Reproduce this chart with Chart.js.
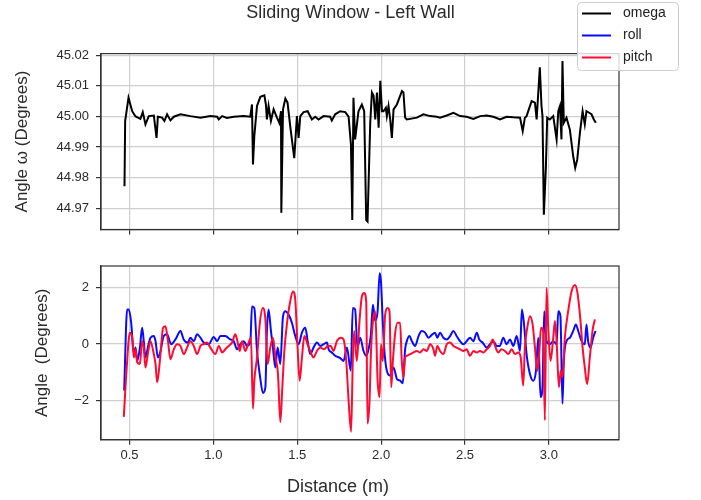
<!DOCTYPE html>
<html>
<head>
<meta charset="utf-8">
<script src="https://cdn.jsdelivr.net/npm/chart.js@4.4.0/dist/chart.umd.min.js"></script>
<style>
body { margin: 0; background: #fff; }
#wrap { position: relative; width: 701px; height: 500px; }
#topChart { position: absolute; left: 0; top: 0; }
#botChart { position: absolute; left: 0; top: 250px; }
</style>
</head>
<body>
<div id="wrap">
<canvas id="topChart" width="701" height="250"></canvas>
<canvas id="botChart" width="676" height="250"></canvas>
</div>
<script>

// omega
var omegaDist = [0.470, 0.474, 0.494, 0.516, 0.536, 0.565, 0.579, 0.595, 0.615, 0.645, 0.661, 0.669, 0.694, 0.708, 0.724, 0.744, 0.764, 0.804, 0.863, 0.923,
    0.982, 1.022, 1.032, 1.052, 1.081, 1.121, 1.181, 1.220, 1.230, 1.236, 1.244, 1.260, 1.280, 1.304, 1.313, 1.319, 1.329, 1.343, 1.359, 1.379,
    1.393, 1.403, 1.405, 1.415, 1.429, 1.442, 1.458, 1.482, 1.498, 1.508, 1.518, 1.538, 1.562, 1.587, 1.607, 1.627, 1.657, 1.696, 1.706, 1.726,
    1.756, 1.786, 1.806, 1.820, 1.828, 1.835, 1.845, 1.865, 1.885, 1.899, 1.911, 1.919, 1.935, 1.945, 1.955, 1.965, 1.975, 1.985, 1.995, 2.005,
    2.014, 2.028, 2.034, 2.044, 2.054, 2.064, 2.074, 2.094, 2.124, 2.133, 2.143, 2.153, 2.213, 2.252, 2.292, 2.332, 2.351, 2.391, 2.431, 2.471,
    2.510, 2.550, 2.590, 2.629, 2.669, 2.709, 2.748, 2.788, 2.828, 2.844, 2.857, 2.867, 2.897, 2.917, 2.927, 2.946, 2.956, 2.962, 2.970, 2.982,
    2.990, 3.006, 3.026, 3.046, 3.056, 3.066, 3.075, 3.081, 3.089, 3.105, 3.125, 3.145, 3.157, 3.169, 3.185, 3.201, 3.214, 3.224, 3.240, 3.254,
    3.268, 3.280];
var omegaVal = [44.9772, 44.9985, 45.0061, 45.0017, 45.0000, 44.9992, 45.0014, 44.9974, 45.0001, 45.0003, 44.9930, 44.9999, 44.9996, 44.9985, 45.0007, 44.9987, 44.9999, 45.0007, 45.0001, 44.9996,
    45.0001, 44.9999, 44.9990, 45.0001, 44.9995, 44.9999, 45.0001, 44.9999, 45.0039, 44.9843, 44.9936, 45.0034, 45.0064, 45.0069, 45.0039, 44.9990, 45.0034, 44.9985, 45.0023, 44.9996,
    44.9979, 45.0017, 44.9686, 45.0023, 45.0058, 45.0045, 44.9968, 44.9864, 45.0001, 44.9930, 45.0001, 45.0014, 45.0017, 44.9990, 44.9999, 44.9990, 45.0001, 44.9999, 44.9987, 45.0007,
    45.0017, 45.0014, 44.9999, 44.9908, 44.9662, 45.0061, 44.9925, 45.0017, 45.0039, 45.0017, 44.9662, 44.9657, 44.9979, 45.0078, 45.0067, 44.9990, 45.0078, 44.9963, 45.0116, 45.0017,
    45.0017, 45.0028, 45.0001, 45.0034, 44.9990, 44.9930, 45.0023, 45.0039, 45.0083, 45.0078, 44.9996, 44.9990, 44.9996, 45.0007, 45.0001, 44.9999, 44.9996, 45.0003, 45.0012, 45.0001,
    44.9999, 44.9992, 45.0001, 45.0003, 44.9999, 44.9990, 44.9999, 44.9997, 44.9996, 44.9952, 44.9996, 45.0001, 45.0050, 45.0045, 44.9990, 45.0160, 45.0034, 45.0001, 44.9679, 44.9832,
    44.9996, 44.9990, 45.0001, 44.9925, 45.0017, 45.0034, 44.9925, 45.0181, 44.9979, 44.9996, 44.9957, 44.9870, 44.9832, 44.9859, 44.9946, 45.0017, 44.9974, 45.0017, 45.0012, 45.0007,
    44.9990, 44.9979];

// roll, bottom panel (blue)
var rollDist = [0.468, 0.486, 0.496, 0.510, 0.526, 0.536, 0.546, 0.562, 0.575, 0.585, 0.595, 0.609, 0.625, 0.645, 0.655, 0.669, 0.685, 0.704, 0.724, 0.748,
    0.774, 0.804, 0.823, 0.847, 0.863, 0.883, 0.903, 0.923, 0.942, 0.972, 1.002, 1.022, 1.042, 1.071, 1.101, 1.121, 1.141, 1.161, 1.181, 1.200,
    1.220, 1.230, 1.244, 1.260, 1.276, 1.296, 1.310, 1.319, 1.329, 1.343, 1.355, 1.369, 1.383, 1.399, 1.415, 1.429, 1.448, 1.468, 1.488, 1.508,
    1.528, 1.548, 1.562, 1.577, 1.597, 1.617, 1.637, 1.657, 1.677, 1.687, 1.706, 1.726, 1.756, 1.776, 1.796, 1.819, 1.831, 1.845, 1.859, 1.875,
    1.895, 1.911, 1.925, 1.939, 1.951, 1.965, 1.979, 1.991, 1.999, 2.007, 2.018, 2.034, 2.054, 2.074, 2.094, 2.113, 2.129, 2.143, 2.153, 2.169,
    2.183, 2.203, 2.223, 2.242, 2.262, 2.282, 2.302, 2.321, 2.335, 2.351, 2.371, 2.391, 2.411, 2.431, 2.450, 2.470, 2.490, 2.510, 2.530, 2.550,
    2.570, 2.585, 2.605, 2.629, 2.649, 2.669, 2.689, 2.708, 2.728, 2.748, 2.768, 2.788, 2.808, 2.828, 2.839, 2.851, 2.867, 2.887, 2.907, 2.923,
    2.937, 2.950, 2.962, 2.972, 2.986, 3.006, 3.026, 3.046, 3.056, 3.069, 3.081, 3.089, 3.105, 3.125, 3.145, 3.161, 3.175, 3.195, 3.214, 3.224,
    3.234, 3.248, 3.264, 3.278];
var rollVal = [-1.65, 1.22, 1.22, 0.75, -0.36, -0.13, -0.60, -0.13, 0.57, 0.10, -0.48, -0.13, 0.22, 0.28, 0.10, -0.48, -0.25, 0.28, 0.34, -0.01,
    0.16, 0.46, 0.16, 0.05, 0.22, 0.10, 0.34, 0.22, 0.05, -0.01, 0.25, 0.10, 0.28, 0.28, 0.16, 0.10, -0.19, -0.01, 0.10, -0.07,
    0.05, 1.33, 1.27, -0.25, -1.06, -1.74, -1.53, 0.46, 1.22, 0.46, -0.13, -0.83, -0.13, -0.71, 0.98, 1.16, 1.04, 0.75, 0.28, -0.01,
    0.40, 0.57, 0.10, -0.36, -0.13, 0.05, -0.07, -0.01, 0.05, -0.19, -0.30, -0.42, -0.50, -0.60, -0.13, -0.95, 1.27, 1.22, -0.13, 0.22,
    -0.25, -0.42, -0.19, 0.34, 1.39, 0.81, 1.16, 2.50, 2.21, 1.16, -0.13, -0.95, -1.12, -0.83, -1.24, -1.30, -1.39, -0.19, 0.10, 0.28,
    0.10, -0.07, 0.28, 0.46, 0.40, 0.22, 0.32, 0.40, 0.22, 0.40, 0.22, 0.16, 0.28, 0.46, 0.28, 0.10, -0.01, 0.10, 0.22, 0.10,
    0.40, 0.16, 0.05, -0.13, -0.01, 0.10, -0.07, -0.07, 0.22, -0.01, 0.16, -0.07, 0.28, -0.25, 1.22, 0.75, -0.36, -1.06, -1.30, -0.95,
    0.22, -1.88, -1.53, 1.16, 0.10, -0.01, 0.10, -0.01, 1.16, 0.98, -2.12, -0.60, 0.10, 0.22, 0.46, 0.69, 0.46, 0.10, -0.01, 0.69,
    0.10, -0.13, 0.22, 0.46];

// pitch, bottom panel (red)
var pitchDist = [0.466, 0.482, 0.502, 0.516, 0.526, 0.536, 0.546, 0.562, 0.575, 0.585, 0.595, 0.609, 0.625, 0.641, 0.655, 0.665, 0.681, 0.700, 0.714, 0.728,
    0.744, 0.764, 0.784, 0.804, 0.823, 0.843, 0.863, 0.883, 0.903, 0.923, 0.942, 0.962, 0.982, 1.012, 1.032, 1.052, 1.071, 1.091, 1.111, 1.131,
    1.141, 1.157, 1.171, 1.190, 1.210, 1.224, 1.236, 1.244, 1.260, 1.276, 1.294, 1.310, 1.323, 1.339, 1.355, 1.369, 1.385, 1.399, 1.411, 1.423,
    1.438, 1.458, 1.474, 1.488, 1.502, 1.514, 1.528, 1.542, 1.558, 1.577, 1.597, 1.617, 1.637, 1.661, 1.681, 1.700, 1.716, 1.736, 1.760, 1.776,
    1.792, 1.806, 1.821, 1.831, 1.839, 1.855, 1.871, 1.885, 1.899, 1.911, 1.919, 1.931, 1.939, 1.951, 1.965, 1.979, 1.991, 1.999, 2.010, 2.024,
    2.038, 2.050, 2.060, 2.070, 2.084, 2.098, 2.113, 2.123, 2.133, 2.143, 2.153, 2.173, 2.193, 2.213, 2.232, 2.252, 2.272, 2.292, 2.312, 2.321,
    2.335, 2.351, 2.371, 2.391, 2.411, 2.431, 2.450, 2.470, 2.490, 2.510, 2.530, 2.550, 2.570, 2.589, 2.609, 2.629, 2.649, 2.665, 2.679, 2.698,
    2.718, 2.738, 2.758, 2.778, 2.798, 2.818, 2.832, 2.847, 2.857, 2.871, 2.887, 2.903, 2.917, 2.931, 2.941, 2.953, 2.966, 2.976, 2.986, 2.996,
    3.010, 3.026, 3.036, 3.046, 3.060, 3.071, 3.081, 3.095, 3.115, 3.135, 3.155, 3.169, 3.185, 3.201, 3.214, 3.228, 3.244, 3.260, 3.274];
var pitchVal = [-2.58, -0.95, 0.40, 0.22, -0.48, -0.19, -0.65, -0.71, 0.10, -0.13, -0.83, -0.36, 0.10, -0.25, -0.71, -1.36, -0.60, 0.57, 0.63, 0.16,
    -0.54, -0.19, -0.01, -0.07, -0.36, -0.13, 0.10, -0.07, -0.36, -0.07, -0.01, 0.05, -0.13, -0.36, -0.07, -0.30, -0.19, -0.07, 0.05, 0.34,
    0.16, -0.25, 0.10, -0.25, 0.05, 0.22, -2.29, -1.30, -0.48, 0.69, 1.27, 0.87, -0.71, -0.13, 0.22, -0.42, -1.06, -2.76, -1.53, -0.25,
    0.69, 1.51, 1.86, 1.57, -0.13, -1.30, -0.48, 0.28, 0.05, -0.25, -0.48, -0.25, -0.13, -0.19, -0.07, -0.07, -0.25, 0.10, 0.22, 0.16,
    -0.60, -2.00, -3.11, -0.60, 0.46, -0.60, 0.81, 1.68, 1.80, 1.51, -2.82, -2.00, -0.36, 0.81, 1.16, -1.30, -1.88, -0.01, -0.60, 1.04,
    1.27, 1.16, -1.53, -0.60, 0.40, 0.75, 0.75, -0.60, -1.18, -0.48, -0.42, -0.36, -0.30, -0.25, -0.30, -0.19, -0.25, -0.01, -0.19, -0.42,
    -0.07, -0.25, -0.36, -0.01, 0.05, -0.07, -0.13, -0.19, -0.25, -0.19, -0.42, -0.25, -0.30, -0.25, -0.30, -0.19, -0.07, 0.16, -0.07, -0.30,
    -0.19, -0.25, -0.36, -0.19, -0.36, -0.30, -0.48, -1.47, -0.13, 0.57, 0.98, 0.69, -0.13, -0.95, -0.48, 0.57, 0.46, -2.70, 1.98, 0.57,
    -0.60, 0.22, 0.81, 0.10, -1.53, -0.95, -1.18, 0.22, 1.16, 1.86, 2.09, 1.86, 1.04, -0.13, -0.83, -1.42, -0.48, 0.46, 0.87];

var distTicks = [0.5, 1.0, 1.5, 2.0, 2.5, 3.0];
var omegaTicks = [44.97, 44.98, 44.99, 45.00, 45.01, 45.02];
var angleTicks = [-2, 0, 2];

var seriesNames = ["omega", "roll", "pitch"];
var seriesColors = ["#000000", "#0a0aff", "#ff0a32"];

var FONT = "'Liberation Sans', Arial, sans-serif";
var TXT = "#2b2b2b";
var GRID = "#cfcfcf";
var AXIS = "#333333";

Chart.defaults.font.family = FONT;
Chart.defaults.color = TXT;

function toPoints(xs, ys) {
    var pts = [];
    for (var i = 0; i < xs.length; i++) {
        pts.push({ x: xs[i], y: ys[i] });
    }
    return pts;
}

function fixedTicks(list) {
    return function(scale) {
        scale.ticks = list.map(function(v) { return { value: v }; });
    };
}

function minusSign(v) {
    return v < 0 ? "\u2212" + Math.abs(v) : String(v);
}

// empty axis on the right, only keeps the margin so titles stay centred on the figure
function spacerAxis(w) {
    return {
        position: "right",
        min: 0,
        max: 1,
        afterFit: function(s) { s.width = w; },
        ticks: { display: false },
        grid: { display: false, drawTicks: false },
        border: { display: false }
    };
}

// box round the plot area, like matplotlib spines
var framePlugin = {
    id: "frame",
    afterDatasetsDraw: function(chart) {
        var a = chart.chartArea;
        var ctx = chart.ctx;
        ctx.save();
        ctx.strokeStyle = AXIS;
        ctx.lineWidth = 1.2;
        ctx.strokeRect(a.left, a.top, a.right - a.left, a.bottom - a.top);
        ctx.restore();
    }
};

// figure legend, covers both panels
var figLegendPlugin = {
    id: "figLegend",
    afterDraw: function(chart) {
        var ctx = chart.ctx;
        ctx.save();
        ctx.beginPath();
        if (ctx.roundRect) {
            ctx.roundRect(577.5, 2.5, 101, 68, 4);
        } else {
            ctx.rect(577.5, 2.5, 101, 68);
        }
        ctx.fillStyle = "rgba(255,255,255,0.8)";
        ctx.fill();
        ctx.strokeStyle = "#cccccc";
        ctx.lineWidth = 1;
        ctx.stroke();

        ctx.font = "14px " + FONT;
        ctx.textBaseline = "middle";
        for (var i = 0; i < seriesNames.length; i++) {
            var y = 13.5 + i * 22;
            ctx.strokeStyle = seriesColors[i];
            ctx.lineWidth = 2;
            ctx.beginPath();
            ctx.moveTo(582, y);
            ctx.lineTo(611, y);
            ctx.stroke();
            ctx.fillStyle = "#222";
            ctx.fillText(seriesNames[i], 623, y);
        }
        ctx.restore();
    }
};

var gridOpts = { color: GRID, lineWidth: 1.2, tickColor: AXIS, tickLength: 5, tickWidth: 1.2 };
var borderOpts = { color: AXIS, width: 1.2 };

new Chart(document.getElementById("topChart"), {
    type: "line",
    data: {
        datasets: [{
            label: seriesNames[0],
            data: toPoints(omegaDist, omegaVal),
            borderColor: seriesColors[0],
            borderWidth: 2,
            pointRadius: 0,
            fill: false,
            tension: 0
        }]
    },
    options: {
        responsive: false,
        animation: false,
        layout: { padding: 0 },
        plugins: {
            legend: { display: false },
            tooltip: { enabled: false },
            title: {
                display: true,
                text: "Sliding Window - Left Wall",
                color: TXT,
                font: { size: 18, weight: "normal" },
                padding: { top: 2, bottom: 30 }
            }
        },
        scales: {
            x: {
                type: "linear",
                min: 0.33,
                max: 3.418,
                afterBuildTicks: fixedTicks(distTicks),
                afterFit: function(s) { s.height = 20.5; },
                ticks: { display: false },
                grid: gridOpts,
                border: borderOpts
            },
            y: {
                min: 44.9631,
                max: 45.0205,
                afterBuildTicks: fixedTicks(omegaTicks),
                afterFit: function(s) { s.width = 101; },
                ticks: {
                    callback: function(v) { return v.toFixed(2); },
                    padding: 7,
                    color: TXT,
                    font: { size: 13 }
                },
                grid: gridOpts,
                border: borderOpts,
                title: {
                    display: true,
                    text: "Angle \u03c9 (Degrees)",
                    color: TXT,
                    font: { size: 17 },
                    padding: { top: 12, bottom: 0 }
                }
            },
            spacer: spacerAxis(82)
        }
    },
    plugins: [framePlugin, figLegendPlugin]
});

new Chart(document.getElementById("botChart"), {
    type: "line",
    data: {
        datasets: [{
            label: seriesNames[1],
            data: toPoints(rollDist, rollVal),
            borderColor: seriesColors[1],
            borderWidth: 2,
            pointRadius: 0,
            fill: false,
            cubicInterpolationMode: "monotone",
            order: 1
        }, {
            label: seriesNames[2],
            data: toPoints(pitchDist, pitchVal),
            borderColor: seriesColors[2],
            borderWidth: 2,
            pointRadius: 0,
            fill: false,
            cubicInterpolationMode: "monotone",
            order: 0
        }]
    },
    options: {
        responsive: false,
        animation: false,
        layout: { padding: { left: 0, right: 0, top: 16, bottom: 0 } },
        plugins: {
            legend: { display: false },
            tooltip: { enabled: false },
            title: {
                display: true,
                position: "bottom",
                text: "Distance (m)",
                color: TXT,
                font: { size: 18, weight: "normal" },
                padding: { top: 0, bottom: 2 }
            }
        },
        scales: {
            x: {
                type: "linear",
                min: 0.33,
                max: 3.418,
                afterBuildTicks: fixedTicks(distTicks),
                afterFit: function(s) { s.height = 36.7; },
                ticks: {
                    callback: function(v) { return v.toFixed(1); },
                    padding: 3,
                    color: TXT,
                    font: { size: 13 },
                    maxRotation: 0
                },
                grid: gridOpts,
                border: borderOpts
            },
            y: {
                min: -3.39,
                max: 2.76,
                afterBuildTicks: fixedTicks(angleTicks),
                afterFit: function(s) { s.width = 101; },
                ticks: {
                    callback: minusSign,
                    padding: 7,
                    color: TXT,
                    font: { size: 13 }
                },
                grid: gridOpts,
                border: borderOpts,
                title: {
                    display: true,
                    text: "Angle  (Degrees)",
                    color: TXT,
                    font: { size: 17 },
                    padding: { top: 32, bottom: 0 }
                }
            },
            spacer: spacerAxis(57)
        }
    },
    plugins: [framePlugin]
});
</script>
</body>
</html>
